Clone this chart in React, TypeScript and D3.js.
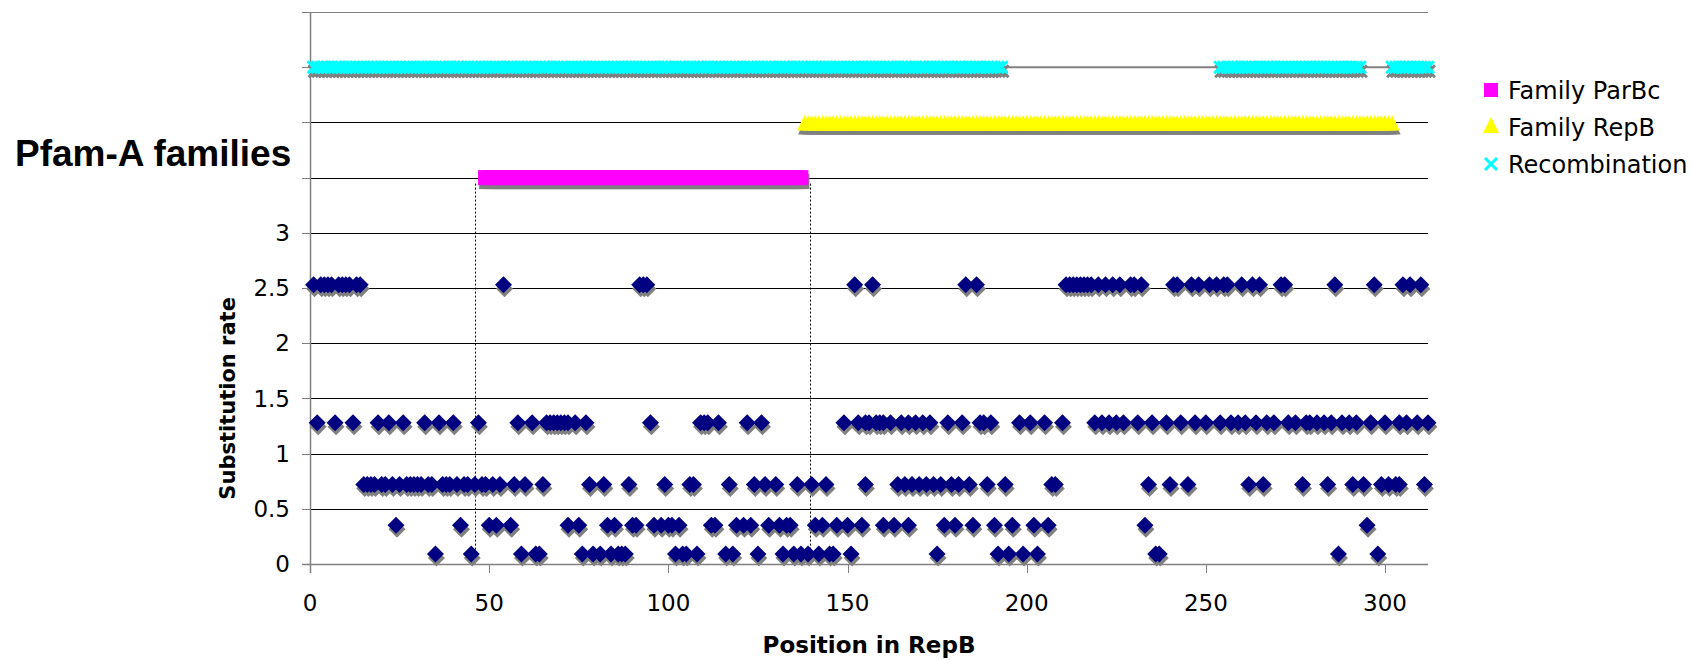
import { useRef, useEffect } from "react";
import * as d3 from "d3";

// substitution rate categories and the RepB sites that fall in each
const rateLevels = [2.53, 1.28, 0.72, 0.35, 0.09];
const sitesRate253 = [1, 3, 4, 5, 6, 8, 9, 10, 11, 13, 14, 54, 92, 93, 94, 152, 157, 183, 186, 211, 212, 213, 214, 215, 216, 217, 218, 220, 222, 224, 226, 229, 230, 232, 241, 242, 246, 248, 251, 253, 255, 256, 260, 263, 265, 271, 272, 286, 297, 305, 307, 310];
const sitesRate128 = [2, 7, 12, 19, 22, 26, 32, 36, 40, 47, 58, 62, 66, 67, 68, 69, 70, 71, 72, 74, 77, 95, 109, 110, 111, 114, 122, 126, 149, 153, 155, 156, 158, 159, 160, 162, 165, 167, 169, 171, 173, 178, 182, 187, 188, 190, 198, 201, 205, 210, 219, 221, 223, 225, 227, 231, 235, 239, 243, 247, 250, 254, 257, 259, 261, 264, 267, 269, 273, 275, 278, 279, 281, 283, 285, 288, 290, 292, 296, 300, 304, 306, 309, 312];
const sitesRate072 = [15, 16, 17, 18, 20, 21, 23, 25, 27, 28, 29, 30, 31, 33, 34, 37, 38, 39, 41, 43, 44, 46, 48, 49, 51, 53, 57, 60, 65, 78, 82, 89, 99, 106, 107, 117, 124, 127, 130, 136, 140, 144, 155, 164, 166, 168, 170, 172, 174, 176, 179, 181, 184, 189, 194, 207, 208, 234, 240, 245, 262, 266, 277, 284, 291, 294, 299, 301, 303, 304, 311];
const sitesRate035 = [24, 42, 50, 52, 56, 72, 75, 83, 85, 90, 91, 96, 98, 100, 101, 103, 112, 113, 119, 121, 123, 128, 131, 133, 134, 141, 143, 147, 150, 154, 160, 163, 167, 177, 180, 185, 191, 196, 202, 206, 233, 295];
const sitesRate009 = [35, 45, 59, 63, 64, 76, 79, 81, 84, 86, 87, 88, 102, 104, 105, 108, 116, 118, 125, 132, 135, 137, 139, 142, 145, 146, 151, 175, 192, 195, 199, 203, 236, 237, 287, 298];
const sitesByRate = [sitesRate253, sitesRate128, sitesRate072, sitesRate035, sitesRate009];

// Pfam-A family spans and recombination segments (residue ranges)
const parbcSpan = [49, 137];
const repbSpan = [138, 302];
const recombSpans = [[1, 193], [254, 293], [302, 312]];
const parbcRow = 3.5;
const repbRow = 4;
const recombRow = 4.5;
const domainBounds = [46, 139.5];

const xTicks = [0, 50, 100, 150, 200, 250, 300];
const yTickLabels = [0, 0.5, 1, 1.5, 2, 2.5, 3];
const yAxisTicks = [0, 0.5, 1, 1.5, 2, 2.5, 3, 3.5, 4, 4.5, 5];
const yGrid = [0.5, 1, 1.5, 2, 2.5, 3, 3.5, 4, 5];
const legendLabels = ["Family ParBc", "Family RepB", "Recombination"];

const NAVY = "#000080";
const SHADOW = "#808080";
const AXIS = "#808080";
const FONT = "'DejaVu Sans', Verdana, sans-serif";

export default function App() {
  const ref = useRef<SVGSVGElement>(null);

  useEffect(() => {
    document.body.style.margin = "0";
    if (!ref.current) return;
    const svg = d3.select(ref.current);
    svg.selectAll("*").remove();

    const W = 1693,
      H = 660;
    svg.attr("width", W).attr("height", H).attr("viewBox", `0 0 ${W} ${H}`);

    const x = d3.scaleLinear().domain([0, 312]).range([310, 1428]);
    const y = d3.scaleLinear().domain([0, 5]).range([564, 12]);

    // gridlines
    svg
      .append("g")
      .selectAll("line")
      .data(yGrid)
      .join("line")
      .attr("x1", x(0))
      .attr("x2", x(312))
      .attr("y1", (d) => Math.round(y(d)) + 0.5)
      .attr("y2", (d) => Math.round(y(d)) + 0.5)
      .attr("stroke", (d) => (d === 5 ? AXIS : "#000"))
      .attr("stroke-width", 1);

    // y axis
    const ya = svg.append("g");
    ya.append("line")
      .attr("x1", x(0) + 0.5)
      .attr("x2", x(0) + 0.5)
      .attr("y1", y(5))
      .attr("y2", y(0) + 9)
      .attr("stroke", AXIS)
      .attr("stroke-width", 1.5);
    ya.selectAll("line.tk")
      .data(yAxisTicks)
      .join("line")
      .attr("class", "tk")
      .attr("x1", x(0) - 8)
      .attr("x2", x(0))
      .attr("y1", (d) => Math.round(y(d)) + 0.5)
      .attr("y2", (d) => Math.round(y(d)) + 0.5)
      .attr("stroke", AXIS);
    ya.selectAll("text")
      .data(yTickLabels)
      .join("text")
      .attr("x", 290)
      .attr("y", (d) => y(d))
      .attr("dy", "0.36em")
      .attr("text-anchor", "end")
      .attr("font-family", FONT)
      .attr("font-size", 23)
      .attr("fill", "#000")
      .text((d) => String(d));

    // x axis
    const xa = svg.append("g");
    xa.append("line")
      .attr("x1", x(0) - 8)
      .attr("x2", x(312))
      .attr("y1", y(0) + 0.5)
      .attr("y2", y(0) + 0.5)
      .attr("stroke", AXIS)
      .attr("stroke-width", 1.5);
    xa.selectAll("line.tk")
      .data(xTicks)
      .join("line")
      .attr("class", "tk")
      .attr("x1", (d) => Math.round(x(d)) + 0.5)
      .attr("x2", (d) => Math.round(x(d)) + 0.5)
      .attr("y1", y(0))
      .attr("y2", y(0) + 9)
      .attr("stroke", AXIS);
    xa.selectAll("text")
      .data(xTicks)
      .join("text")
      .attr("x", (d) => x(d))
      .attr("y", 611)
      .attr("text-anchor", "middle")
      .attr("font-family", FONT)
      .attr("font-size", 23)
      .attr("fill", "#000")
      .text((d) => String(d));

    // titles
    svg
      .append("text")
      .attr("x", (x(0) + x(312)) / 2)
      .attr("y", 653)
      .attr("text-anchor", "middle")
      .attr("font-family", FONT)
      .attr("font-weight", "bold")
      .attr("font-size", 23)
      .text("Position in RepB");
    svg
      .append("text")
      .attr("transform", `translate(235,${(y(0) + y(3)) / 2}) rotate(-90)`)
      .attr("text-anchor", "middle")
      .attr("font-family", FONT)
      .attr("font-weight", "bold")
      .attr("font-size", 21)
      .text("Substitution rate");
    svg
      .append("text")
      .attr("x", 15)
      .attr("y", 166)
      .attr("font-family", "'Liberation Sans', Arial, sans-serif")
      .attr("font-weight", "bold")
      .attr("font-size", 37)
      .text("Pfam-A families");

    // dotted boundaries of the ParBc domain
    svg
      .append("g")
      .selectAll("line")
      .data(domainBounds)
      .join("line")
      .attr("x1", (d) => Math.round(x(d)) + 0.5)
      .attr("x2", (d) => Math.round(x(d)) + 0.5)
      .attr("y1", y(parbcRow) + 6)
      .attr("y2", y(0))
      .attr("stroke", "#000")
      .attr("stroke-dasharray", "2,2");

    // marker shapes
    const diamond = "M0,-8.5L8.5,0L0,8.5L-8.5,0Z";
    const square = "M-7.5,-7.5H7.5V7.5H-7.5Z";
    const triangle = "M0,-7.5L7.5,8L-7.5,8Z";
    const cross = "M-6,-6L6,6M-6,6L6,-6";

    const residues = (span: number[]) => d3.range(span[0], span[1] + 1);

    // recombination row: connecting line, shadows, crosses
    const recombSites = recombSpans.flatMap(residues);
    const rg = svg.append("g");
    rg.append("path")
      .attr(
        "d",
        d3
          .line<number>()
          .x((d) => x(d))
          .y(() => y(recombRow))(recombSites)
      )
      .attr("fill", "none")
      .attr("stroke", SHADOW)
      .attr("stroke-width", 2);
    rg.selectAll("path.sh")
      .data(recombSites)
      .join("path")
      .attr("class", "sh")
      .attr("d", cross)
      .attr("transform", (d) => `translate(${x(d) + 1},${y(recombRow) + 4})`)
      .attr("stroke", SHADOW)
      .attr("stroke-width", 3)
      .attr("fill", "none");
    rg.selectAll("path.mk")
      .data(recombSites)
      .join("path")
      .attr("class", "mk")
      .attr("d", cross)
      .attr("transform", (d) => `translate(${x(d)},${y(recombRow)})`)
      .attr("stroke", "#00FFFF")
      .attr("stroke-width", 3)
      .attr("fill", "none");

    // family rows
    const families = [
      { sites: residues(repbSpan), row: repbRow, shape: triangle, color: "#FFFF00" },
      { sites: residues(parbcSpan), row: parbcRow, shape: square, color: "#FF00FF" },
    ];
    families.forEach((f) => {
      const g = svg.append("g");
      g.selectAll("path.sh")
        .data(f.sites)
        .join("path")
        .attr("class", "sh")
        .attr("d", f.shape)
        .attr("transform", (d) => `translate(${x(d) + 1},${y(f.row) + 4})`)
        .attr("fill", SHADOW);
      g.selectAll("path.mk")
        .data(f.sites)
        .join("path")
        .attr("class", "mk")
        .attr("d", f.shape)
        .attr("transform", (d) => `translate(${x(d)},${y(f.row)})`)
        .attr("fill", f.color);
    });

    // substitution rates
    const points = rateLevels.flatMap((r, i) => sitesByRate[i].map((s) => ({ pos: s, rate: r })));
    const pg = svg.append("g");
    pg.selectAll("path.sh")
      .data(points)
      .join("path")
      .attr("class", "sh")
      .attr("d", diamond)
      .attr("transform", (d) => `translate(${x(d.pos) + 1},${y(d.rate) + 4})`)
      .attr("fill", SHADOW);
    pg.selectAll("path.mk")
      .data(points)
      .join("path")
      .attr("class", "mk")
      .attr("d", diamond)
      .attr("transform", (d) => `translate(${x(d.pos)},${y(d.rate)})`)
      .attr("fill", NAVY);

    // legend
    const lg = svg.append("g").attr("transform", "translate(1491,90)");
    const legendShapes = [
      { d: "M-7,-7H7V7H-7Z", fill: "#FF00FF", stroke: "none" },
      { d: "M0,-8L8,8L-8,8Z", fill: "#FFFF00", stroke: "none" },
      { d: "M-6,-6L6,6M-6,6L6,-6", fill: "none", stroke: "#00FFFF" },
    ];
    legendLabels.forEach((label, i) => {
      const row = lg.append("g").attr("transform", `translate(0,${i * 37})`);
      const s = legendShapes[i];
      row
        .append("path")
        .attr("d", s.d)
        .attr("transform", i === 1 ? "translate(0,-2)" : null)
        .attr("fill", s.fill)
        .attr("stroke", s.stroke)
        .attr("stroke-width", 3);
      row
        .append("text")
        .attr("x", 17)
        .attr("y", 0)
        .attr("dy", "0.36em")
        .attr("font-family", FONT)
        .attr("font-size", 24)
        .text(label);
    });
  }, []);

  return <svg ref={ref} style={{ display: "block" }} />;
}
